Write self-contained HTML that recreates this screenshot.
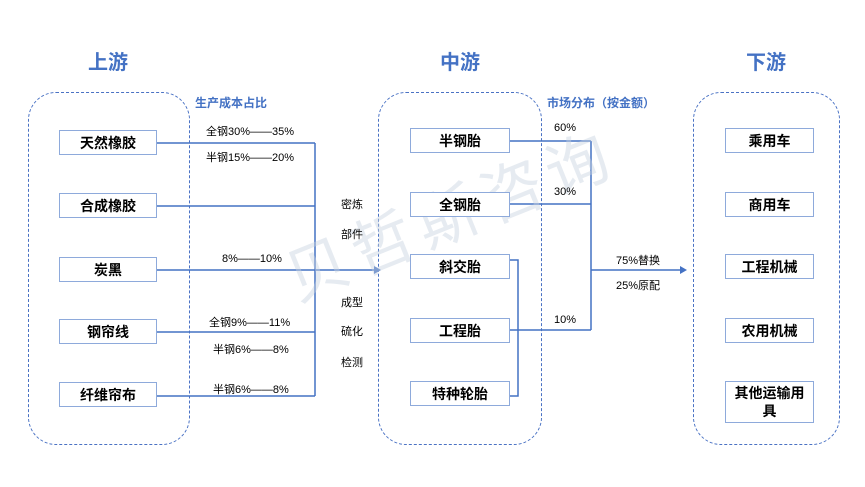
<!DOCTYPE html>
<html><head><meta charset="utf-8"><style>
body{margin:0;width:865px;height:487px;background:#fff;position:relative;overflow:hidden;font-family:"Liberation Sans","Noto Sans CJK SC",sans-serif;}
.c{position:absolute;border:1.5px dashed #4a72c4;border-radius:28px;}
.b{position:absolute;border:1.5px solid #8eaadb;background:#fff;box-sizing:border-box;font-weight:bold;font-size:14px;color:#000;display:flex;align-items:center;justify-content:center;text-align:center;line-height:18px;}
.t{position:absolute;font-size:11px;color:#000;white-space:nowrap;}
.h{position:absolute;color:#4472c4;font-weight:bold;font-size:20px;}
.s{position:absolute;color:#4472c4;font-weight:bold;font-size:12px;white-space:nowrap;}
</style></head><body>
<div class="h" style="left:88px;top:46px">上游</div>
<div class="h" style="left:440px;top:46px">中游</div>
<div class="h" style="left:746px;top:46px">下游</div>
<div class="c" style="left:28px;top:92px;width:160px;height:351px"></div>
<div class="c" style="left:378px;top:92px;width:162px;height:351px"></div>
<div class="c" style="left:693px;top:92px;width:145px;height:351px"></div>
<div class="s" style="left:195px;top:94px">生产成本占比</div>
<div class="s" style="left:547px;top:94px">市场分布（按金额）</div>
<svg style="position:absolute;left:0;top:0" width="865" height="487">
<g stroke="#4472c4" stroke-width="1.5" fill="none">
<path d="M157 143H315M157 206H315M157 332H315M157 396H315M315 143V396M157 270H374"/>
<path d="M510 141H591M510 204H591M510 330H591M591 141V330M591 270H680M510 260H518V396H510"/>
</g>
<path d="M374 266L381 270L374 274Z" fill="#4472c4"/>
<path d="M680 266L687 270L680 274Z" fill="#4472c4"/>
</svg>
<div style="position:absolute;left:270px;top:235px;font-size:62px;color:rgba(200,210,225,0.45);transform:rotate(-22deg);transform-origin:left top;white-space:nowrap;letter-spacing:8px;font-family:'Noto Sans CJK SC',sans-serif;">贝哲斯咨询</div>
<div class="b" style="left:59px;top:130px;width:98px;height:25px">天然橡胶</div>
<div class="b" style="left:59px;top:193px;width:98px;height:25px">合成橡胶</div>
<div class="b" style="left:59px;top:257px;width:98px;height:25px">炭黑</div>
<div class="b" style="left:59px;top:319px;width:98px;height:25px">钢帘线</div>
<div class="b" style="left:59px;top:382px;width:98px;height:25px">纤维帘布</div>
<div class="t" style="left:206px;top:123px">全钢30%——35%</div>
<div class="t" style="left:206px;top:149px">半钢15%——20%</div>
<div class="t" style="left:222px;top:253px">8%——10%</div>
<div class="t" style="left:209px;top:314px">全钢9%——11%</div>
<div class="t" style="left:213px;top:341px">半钢6%——8%</div>
<div class="t" style="left:213px;top:381px">半钢6%——8%</div>
<div class="t" style="left:341px;top:196px">密炼</div>
<div class="t" style="left:341px;top:226px">部件</div>
<div class="t" style="left:341px;top:294px">成型</div>
<div class="t" style="left:341px;top:323px">硫化</div>
<div class="t" style="left:341px;top:354px">检测</div>
<div class="b" style="left:410px;top:128px;width:100px;height:25px">半钢胎</div>
<div class="b" style="left:410px;top:192px;width:100px;height:25px">全钢胎</div>
<div class="b" style="left:410px;top:254px;width:100px;height:25px">斜交胎</div>
<div class="b" style="left:410px;top:318px;width:100px;height:25px">工程胎</div>
<div class="b" style="left:410px;top:381px;width:100px;height:25px">特种轮胎</div>
<div class="t" style="left:554px;top:122px">60%</div>
<div class="t" style="left:554px;top:186px">30%</div>
<div class="t" style="left:554px;top:314px">10%</div>
<div class="t" style="left:616px;top:252px">75%替换</div>
<div class="t" style="left:616px;top:277px">25%原配</div>
<div class="b" style="left:725px;top:128px;width:89px;height:25px">乘用车</div>
<div class="b" style="left:725px;top:192px;width:89px;height:25px">商用车</div>
<div class="b" style="left:725px;top:254px;width:89px;height:25px">工程机械</div>
<div class="b" style="left:725px;top:318px;width:89px;height:25px">农用机械</div>
<div class="b" style="left:725px;top:381px;width:89px;height:42px">其他运输用<br>具</div>
</body></html>
